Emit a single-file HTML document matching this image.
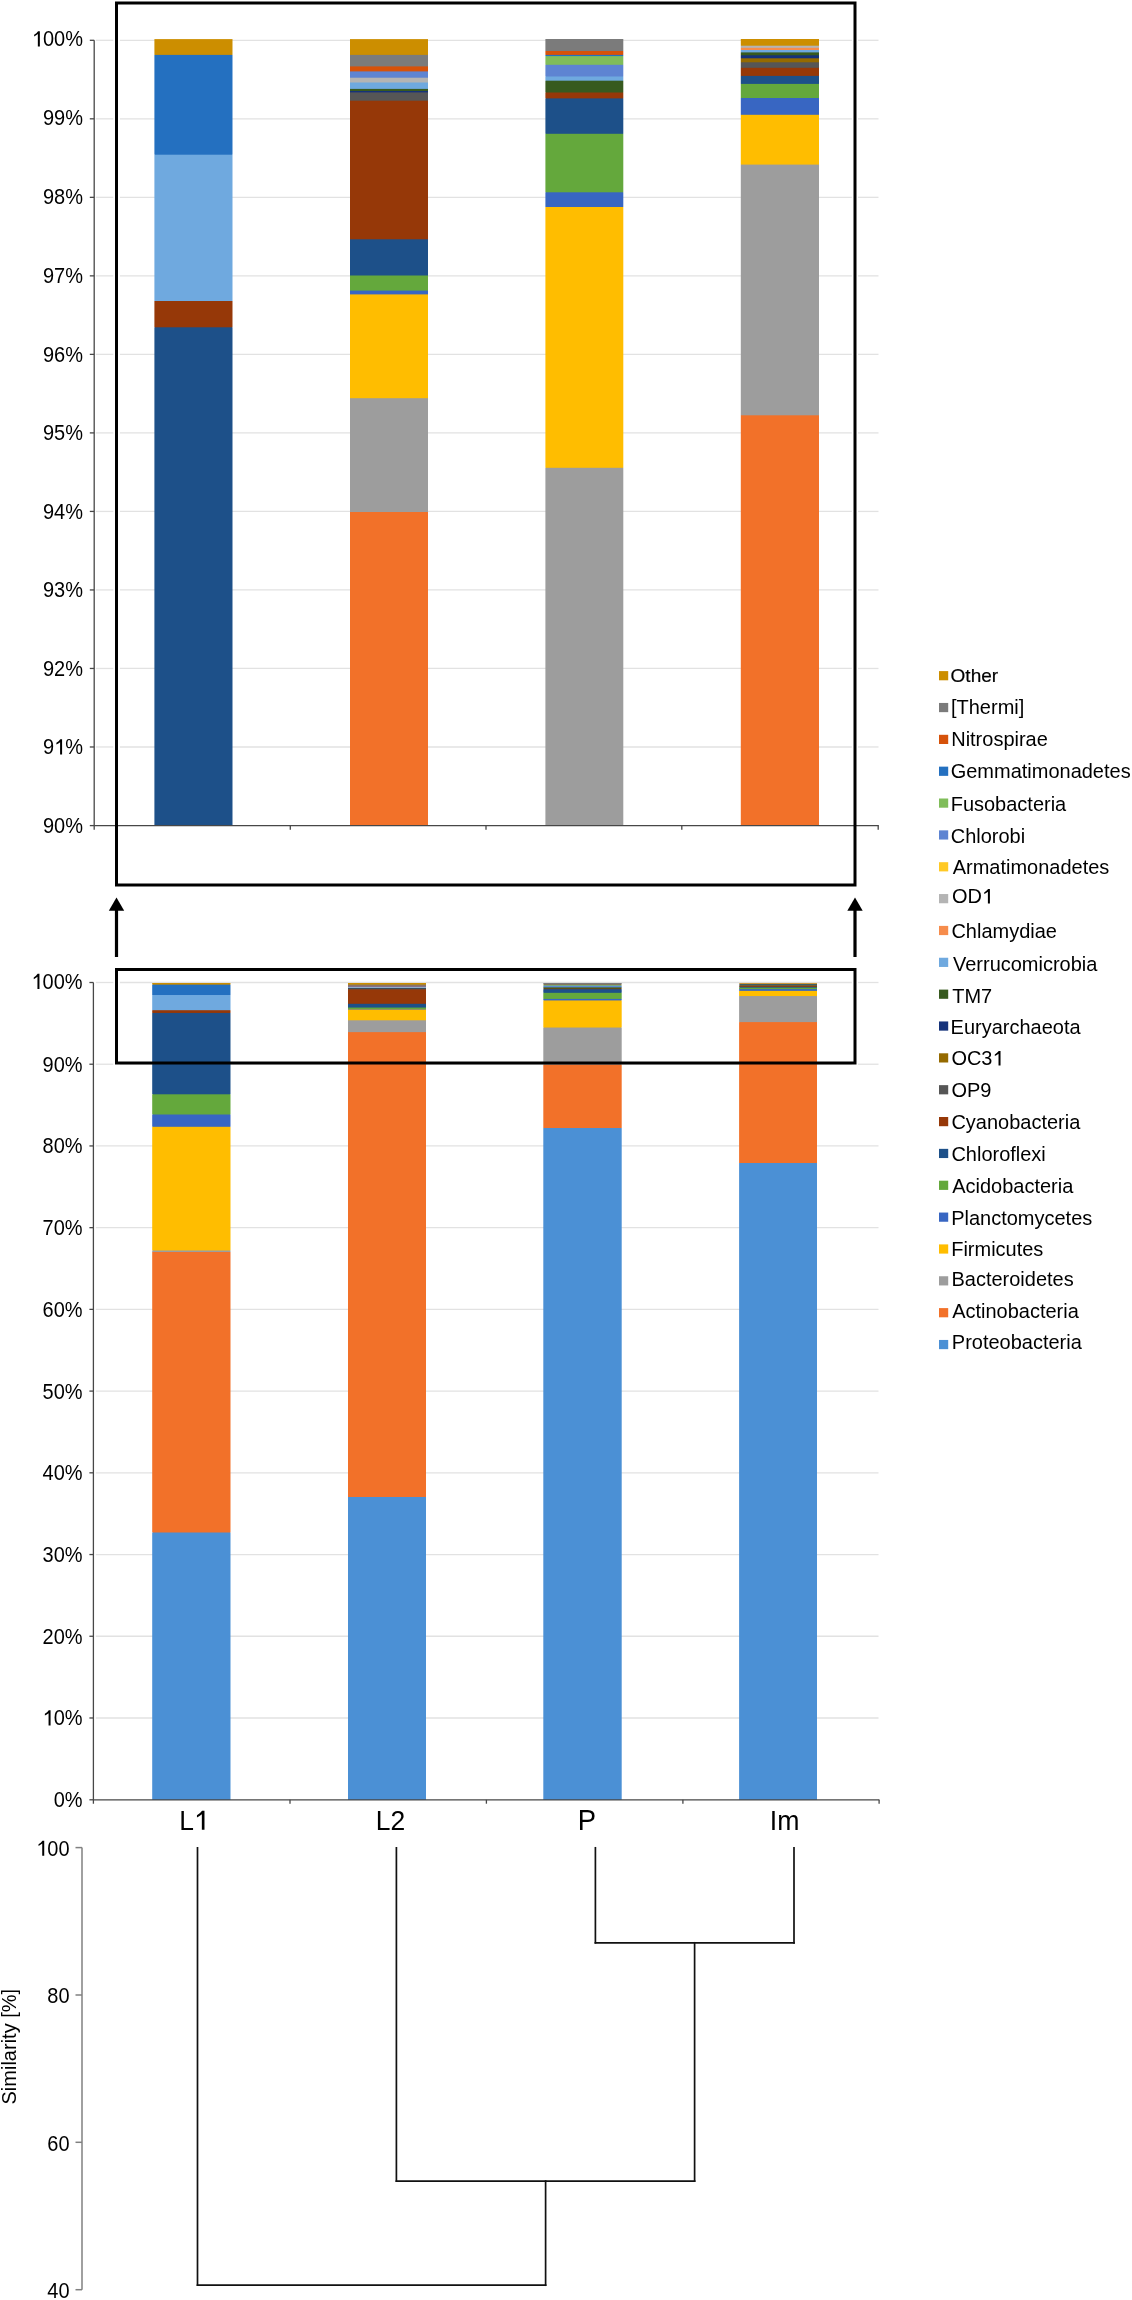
<!DOCTYPE html>
<html><head><meta charset="utf-8"><title>chart</title>
<style>
html,body{margin:0;padding:0;background:#fff;}
body{width:1132px;height:2300px;overflow:hidden;}
svg{display:block;will-change:transform;}
text{font-family:"Liberation Sans",sans-serif;fill:#000;}
.t20{font-size:20px;}
.t26{font-size:26px;}
.tl{font-size:19.6px;}
</style></head>
<body>
<svg width="1132" height="2300" viewBox="0 0 1132 2300">
<rect x="0" y="0" width="1132" height="2300" fill="#fff"/>
<line x1="95.8" y1="40.3" x2="113.3" y2="40.3" stroke="#E2E2E2" stroke-width="1.3"/>
<line x1="119.9" y1="40.3" x2="851.8" y2="40.3" stroke="#E2E2E2" stroke-width="1.3"/>
<line x1="858.0" y1="40.3" x2="878.5" y2="40.3" stroke="#E2E2E2" stroke-width="1.3"/>
<line x1="95.8" y1="118.82" x2="113.3" y2="118.82" stroke="#E2E2E2" stroke-width="1.3"/>
<line x1="119.9" y1="118.82" x2="851.8" y2="118.82" stroke="#E2E2E2" stroke-width="1.3"/>
<line x1="858.0" y1="118.82" x2="878.5" y2="118.82" stroke="#E2E2E2" stroke-width="1.3"/>
<line x1="95.8" y1="197.34" x2="113.3" y2="197.34" stroke="#E2E2E2" stroke-width="1.3"/>
<line x1="119.9" y1="197.34" x2="851.8" y2="197.34" stroke="#E2E2E2" stroke-width="1.3"/>
<line x1="858.0" y1="197.34" x2="878.5" y2="197.34" stroke="#E2E2E2" stroke-width="1.3"/>
<line x1="95.8" y1="275.86" x2="113.3" y2="275.86" stroke="#E2E2E2" stroke-width="1.3"/>
<line x1="119.9" y1="275.86" x2="851.8" y2="275.86" stroke="#E2E2E2" stroke-width="1.3"/>
<line x1="858.0" y1="275.86" x2="878.5" y2="275.86" stroke="#E2E2E2" stroke-width="1.3"/>
<line x1="95.8" y1="354.38" x2="113.3" y2="354.38" stroke="#E2E2E2" stroke-width="1.3"/>
<line x1="119.9" y1="354.38" x2="851.8" y2="354.38" stroke="#E2E2E2" stroke-width="1.3"/>
<line x1="858.0" y1="354.38" x2="878.5" y2="354.38" stroke="#E2E2E2" stroke-width="1.3"/>
<line x1="95.8" y1="432.9" x2="113.3" y2="432.9" stroke="#E2E2E2" stroke-width="1.3"/>
<line x1="119.9" y1="432.9" x2="851.8" y2="432.9" stroke="#E2E2E2" stroke-width="1.3"/>
<line x1="858.0" y1="432.9" x2="878.5" y2="432.9" stroke="#E2E2E2" stroke-width="1.3"/>
<line x1="95.8" y1="511.42" x2="113.3" y2="511.42" stroke="#E2E2E2" stroke-width="1.3"/>
<line x1="119.9" y1="511.42" x2="851.8" y2="511.42" stroke="#E2E2E2" stroke-width="1.3"/>
<line x1="858.0" y1="511.42" x2="878.5" y2="511.42" stroke="#E2E2E2" stroke-width="1.3"/>
<line x1="95.8" y1="589.94" x2="113.3" y2="589.94" stroke="#E2E2E2" stroke-width="1.3"/>
<line x1="119.9" y1="589.94" x2="851.8" y2="589.94" stroke="#E2E2E2" stroke-width="1.3"/>
<line x1="858.0" y1="589.94" x2="878.5" y2="589.94" stroke="#E2E2E2" stroke-width="1.3"/>
<line x1="95.8" y1="668.46" x2="113.3" y2="668.46" stroke="#E2E2E2" stroke-width="1.3"/>
<line x1="119.9" y1="668.46" x2="851.8" y2="668.46" stroke="#E2E2E2" stroke-width="1.3"/>
<line x1="858.0" y1="668.46" x2="878.5" y2="668.46" stroke="#E2E2E2" stroke-width="1.3"/>
<line x1="95.8" y1="746.98" x2="113.3" y2="746.98" stroke="#E2E2E2" stroke-width="1.3"/>
<line x1="119.9" y1="746.98" x2="851.8" y2="746.98" stroke="#E2E2E2" stroke-width="1.3"/>
<line x1="858.0" y1="746.98" x2="878.5" y2="746.98" stroke="#E2E2E2" stroke-width="1.3"/>
<rect x="155" y="39.1" width="77" height="786.4" fill="#CC8E00"/>
<rect x="155" y="54.9" width="77" height="770.6" fill="#2470C0"/>
<rect x="155" y="154.7" width="77" height="670.8" fill="#6FA9DF"/>
<rect x="155" y="301" width="77" height="524.5" fill="#963808"/>
<rect x="155" y="327.3" width="77" height="498.2" fill="#1D5089"/>
<rect x="154.4" y="39.1" width="0.6" height="15.8" fill="#CC8E00"/>
<rect x="232" y="39.1" width="0.5" height="15.8" fill="#CC8E00"/>
<rect x="154.4" y="54.9" width="0.6" height="99.8" fill="#2470C0"/>
<rect x="232" y="54.9" width="0.5" height="99.8" fill="#2470C0"/>
<rect x="154.4" y="154.7" width="0.6" height="146.3" fill="#6FA9DF"/>
<rect x="232" y="154.7" width="0.5" height="146.3" fill="#6FA9DF"/>
<rect x="154.4" y="301" width="0.6" height="26.3" fill="#963808"/>
<rect x="232" y="301" width="0.5" height="26.3" fill="#963808"/>
<rect x="154.4" y="327.3" width="0.6" height="498.2" fill="#1D5089"/>
<rect x="232" y="327.3" width="0.5" height="498.2" fill="#1D5089"/>
<rect x="350" y="39.1" width="78" height="786.4" fill="#CC8E00"/>
<rect x="350" y="54.9" width="78" height="770.6" fill="#7B7B7B"/>
<rect x="350" y="66.4" width="78" height="759.1" fill="#D6520A"/>
<rect x="350" y="71.4" width="78" height="754.1" fill="#5E84D2"/>
<rect x="350" y="77.7" width="78" height="747.8" fill="#B4B4B4"/>
<rect x="350" y="82.5" width="78" height="743" fill="#6FA9DF"/>
<rect x="350" y="88.9" width="78" height="736.6" fill="#375A1F"/>
<rect x="350" y="91" width="78" height="734.5" fill="#15327A"/>
<rect x="350" y="92.4" width="78" height="733.1" fill="#565656"/>
<rect x="350" y="100.7" width="78" height="724.8" fill="#963808"/>
<rect x="350" y="239.3" width="78" height="586.2" fill="#1D5089"/>
<rect x="350" y="275.5" width="78" height="550" fill="#64A83C"/>
<rect x="350" y="290.6" width="78" height="534.9" fill="#3866C2"/>
<rect x="350" y="294.4" width="78" height="531.1" fill="#FFBD00"/>
<rect x="350" y="398.2" width="78" height="427.3" fill="#9D9D9D"/>
<rect x="350" y="512" width="78" height="313.5" fill="#F27129"/>
<rect x="546" y="39" width="77" height="786.5" fill="#7B7B7B"/>
<rect x="546" y="51" width="77" height="774.5" fill="#D6520A"/>
<rect x="546" y="54.9" width="77" height="770.6" fill="#2470C0"/>
<rect x="546" y="56.1" width="77" height="769.4" fill="#80BD5A"/>
<rect x="546" y="64.8" width="77" height="760.7" fill="#5E84D2"/>
<rect x="546" y="76.5" width="77" height="749" fill="#6FA9DF"/>
<rect x="546" y="80.7" width="77" height="744.8" fill="#375A1F"/>
<rect x="546" y="92.5" width="77" height="733" fill="#963808"/>
<rect x="546" y="98.4" width="77" height="727.1" fill="#1D5089"/>
<rect x="546" y="133.8" width="77" height="691.7" fill="#64A83C"/>
<rect x="546" y="192.3" width="77" height="633.2" fill="#3866C2"/>
<rect x="546" y="207" width="77" height="618.5" fill="#FFBD00"/>
<rect x="546" y="467.8" width="77" height="357.7" fill="#9D9D9D"/>
<rect x="545.4" y="39" width="0.6" height="12" fill="#7B7B7B"/>
<rect x="623" y="39" width="0.3" height="12" fill="#7B7B7B"/>
<rect x="545.4" y="51" width="0.6" height="3.9" fill="#D6520A"/>
<rect x="623" y="51" width="0.3" height="3.9" fill="#D6520A"/>
<rect x="545.4" y="54.9" width="0.6" height="1.2" fill="#2470C0"/>
<rect x="623" y="54.9" width="0.3" height="1.2" fill="#2470C0"/>
<rect x="545.4" y="56.1" width="0.6" height="8.7" fill="#80BD5A"/>
<rect x="623" y="56.1" width="0.3" height="8.7" fill="#80BD5A"/>
<rect x="545.4" y="64.8" width="0.6" height="11.7" fill="#5E84D2"/>
<rect x="623" y="64.8" width="0.3" height="11.7" fill="#5E84D2"/>
<rect x="545.4" y="76.5" width="0.6" height="4.2" fill="#6FA9DF"/>
<rect x="623" y="76.5" width="0.3" height="4.2" fill="#6FA9DF"/>
<rect x="545.4" y="80.7" width="0.6" height="11.8" fill="#375A1F"/>
<rect x="623" y="80.7" width="0.3" height="11.8" fill="#375A1F"/>
<rect x="545.4" y="92.5" width="0.6" height="5.9" fill="#963808"/>
<rect x="623" y="92.5" width="0.3" height="5.9" fill="#963808"/>
<rect x="545.4" y="98.4" width="0.6" height="35.4" fill="#1D5089"/>
<rect x="623" y="98.4" width="0.3" height="35.4" fill="#1D5089"/>
<rect x="545.4" y="133.8" width="0.6" height="58.5" fill="#64A83C"/>
<rect x="623" y="133.8" width="0.3" height="58.5" fill="#64A83C"/>
<rect x="545.4" y="192.3" width="0.6" height="14.7" fill="#3866C2"/>
<rect x="623" y="192.3" width="0.3" height="14.7" fill="#3866C2"/>
<rect x="545.4" y="207" width="0.6" height="260.8" fill="#FFBD00"/>
<rect x="623" y="207" width="0.3" height="260.8" fill="#FFBD00"/>
<rect x="545.4" y="467.8" width="0.6" height="357.7" fill="#9D9D9D"/>
<rect x="623" y="467.8" width="0.3" height="357.7" fill="#9D9D9D"/>
<rect x="741" y="39" width="78" height="786.5" fill="#CC8E00"/>
<rect x="741" y="45.7" width="78" height="779.8" fill="#B4B4B4"/>
<rect x="741" y="47.8" width="78" height="777.7" fill="#F68C4C"/>
<rect x="741" y="50" width="78" height="775.5" fill="#6FA9DF"/>
<rect x="741" y="52.4" width="78" height="773.1" fill="#375A1F"/>
<rect x="741" y="55.3" width="78" height="770.2" fill="#15327A"/>
<rect x="741" y="58.3" width="78" height="767.2" fill="#956A00"/>
<rect x="741" y="62.3" width="78" height="763.2" fill="#565656"/>
<rect x="741" y="67.8" width="78" height="757.7" fill="#963808"/>
<rect x="741" y="75.9" width="78" height="749.6" fill="#1D5089"/>
<rect x="741" y="83.9" width="78" height="741.6" fill="#64A83C"/>
<rect x="741" y="98" width="78" height="727.5" fill="#3866C2"/>
<rect x="741" y="114.8" width="78" height="710.7" fill="#FFBD00"/>
<rect x="741" y="164.6" width="78" height="660.9" fill="#9D9D9D"/>
<rect x="741" y="415.3" width="78" height="410.2" fill="#F27129"/>
<rect x="740.8" y="39" width="0.2" height="6.7" fill="#CC8E00"/>
<rect x="740.8" y="45.7" width="0.2" height="2.1" fill="#B4B4B4"/>
<rect x="740.8" y="47.8" width="0.2" height="2.2" fill="#F68C4C"/>
<rect x="740.8" y="50" width="0.2" height="2.4" fill="#6FA9DF"/>
<rect x="740.8" y="52.4" width="0.2" height="2.9" fill="#375A1F"/>
<rect x="740.8" y="55.3" width="0.2" height="3" fill="#15327A"/>
<rect x="740.8" y="58.3" width="0.2" height="4" fill="#956A00"/>
<rect x="740.8" y="62.3" width="0.2" height="5.5" fill="#565656"/>
<rect x="740.8" y="67.8" width="0.2" height="8.1" fill="#963808"/>
<rect x="740.8" y="75.9" width="0.2" height="8" fill="#1D5089"/>
<rect x="740.8" y="83.9" width="0.2" height="14.1" fill="#64A83C"/>
<rect x="740.8" y="98" width="0.2" height="16.8" fill="#3866C2"/>
<rect x="740.8" y="114.8" width="0.2" height="49.8" fill="#FFBD00"/>
<rect x="740.8" y="164.6" width="0.2" height="250.7" fill="#9D9D9D"/>
<rect x="740.8" y="415.3" width="0.2" height="410.2" fill="#F27129"/>
<line x1="94.2" y1="40.3" x2="94.2" y2="829.7" stroke="#474747" stroke-width="1.3"/>
<line x1="94.2" y1="825.6" x2="878.8" y2="825.6" stroke="#474747" stroke-width="1.3"/>
<line x1="89.8" y1="40.3" x2="94.2" y2="40.3" stroke="#474747" stroke-width="1.3"/>
<line x1="89.8" y1="118.82" x2="94.2" y2="118.82" stroke="#474747" stroke-width="1.3"/>
<line x1="89.8" y1="197.34" x2="94.2" y2="197.34" stroke="#474747" stroke-width="1.3"/>
<line x1="89.8" y1="275.86" x2="94.2" y2="275.86" stroke="#474747" stroke-width="1.3"/>
<line x1="89.8" y1="354.38" x2="94.2" y2="354.38" stroke="#474747" stroke-width="1.3"/>
<line x1="89.8" y1="432.9" x2="94.2" y2="432.9" stroke="#474747" stroke-width="1.3"/>
<line x1="89.8" y1="511.42" x2="94.2" y2="511.42" stroke="#474747" stroke-width="1.3"/>
<line x1="89.8" y1="589.94" x2="94.2" y2="589.94" stroke="#474747" stroke-width="1.3"/>
<line x1="89.8" y1="668.46" x2="94.2" y2="668.46" stroke="#474747" stroke-width="1.3"/>
<line x1="89.8" y1="746.98" x2="94.2" y2="746.98" stroke="#474747" stroke-width="1.3"/>
<line x1="89.8" y1="825.6" x2="94.2" y2="825.6" stroke="#474747" stroke-width="1.3"/>
<line x1="290.3" y1="825.6" x2="290.3" y2="829.7" stroke="#474747" stroke-width="1.3"/>
<line x1="486.0" y1="825.6" x2="486.0" y2="829.7" stroke="#474747" stroke-width="1.3"/>
<line x1="681.8" y1="825.6" x2="681.8" y2="829.7" stroke="#474747" stroke-width="1.3"/>
<line x1="878.2" y1="825.6" x2="878.2" y2="829.7" stroke="#474747" stroke-width="1.3"/>
<g transform="translate(31.85,46.40) scale(1,1.11)" fill="#000"><path d="M0.400 0L0.400 -0.686L0.31 -0.686Q0.24 -0.59 0.115 -0.526L0.115 -0.446Q0.22 -0.49 0.300 -0.556L0.300 0Z" transform="translate(0.00,0) scale(20)"/><text x="11.12" y="0" font-size="20">00%</text></g>
<g transform="translate(42.97,125.32) scale(1,1.11)" fill="#000"><text x="0.00" y="0" font-size="20">99%</text></g>
<g transform="translate(42.97,204.14) scale(1,1.11)" fill="#000"><text x="0.00" y="0" font-size="20">98%</text></g>
<g transform="translate(42.97,283.36) scale(1,1.11)" fill="#000"><text x="0.00" y="0" font-size="20">97%</text></g>
<g transform="translate(42.97,361.88) scale(1,1.11)" fill="#000"><text x="0.00" y="0" font-size="20">96%</text></g>
<g transform="translate(42.97,439.80) scale(1,1.11)" fill="#000"><text x="0.00" y="0" font-size="20">95%</text></g>
<g transform="translate(42.97,518.92) scale(1,1.11)" fill="#000"><text x="0.00" y="0" font-size="20">94%</text></g>
<g transform="translate(42.97,597.44) scale(1,1.11)" fill="#000"><text x="0.00" y="0" font-size="20">93%</text></g>
<g transform="translate(42.97,675.96) scale(1,1.11)" fill="#000"><text x="0.00" y="0" font-size="20">92%</text></g>
<g transform="translate(42.97,754.48) scale(1,1.11)" fill="#000"><text x="0.00" y="0" font-size="20">9</text><path d="M0.400 0L0.400 -0.686L0.31 -0.686Q0.24 -0.59 0.115 -0.526L0.115 -0.446Q0.22 -0.49 0.300 -0.556L0.300 0Z" transform="translate(11.12,0) scale(20)"/><text x="22.25" y="0" font-size="20">%</text></g>
<g transform="translate(42.97,833.10) scale(1,1.11)" fill="#000"><text x="0.00" y="0" font-size="20">90%</text></g>
<line x1="95.8" y1="982.5" x2="113.3" y2="982.5" stroke="#E2E2E2" stroke-width="1.3"/>
<line x1="119.9" y1="982.5" x2="851.8" y2="982.5" stroke="#E2E2E2" stroke-width="1.3"/>
<line x1="858.0" y1="982.5" x2="878.5" y2="982.5" stroke="#E2E2E2" stroke-width="1.3"/>
<line x1="95.8" y1="1064.22" x2="113.3" y2="1064.22" stroke="#E2E2E2" stroke-width="1.3"/>
<line x1="119.9" y1="1064.22" x2="851.8" y2="1064.22" stroke="#E2E2E2" stroke-width="1.3"/>
<line x1="858.0" y1="1064.22" x2="878.5" y2="1064.22" stroke="#E2E2E2" stroke-width="1.3"/>
<line x1="95.8" y1="1145.94" x2="878.5" y2="1145.94" stroke="#E2E2E2" stroke-width="1.3"/>
<line x1="95.8" y1="1227.66" x2="878.5" y2="1227.66" stroke="#E2E2E2" stroke-width="1.3"/>
<line x1="95.8" y1="1309.38" x2="878.5" y2="1309.38" stroke="#E2E2E2" stroke-width="1.3"/>
<line x1="95.8" y1="1391.1" x2="878.5" y2="1391.1" stroke="#E2E2E2" stroke-width="1.3"/>
<line x1="95.8" y1="1472.82" x2="878.5" y2="1472.82" stroke="#E2E2E2" stroke-width="1.3"/>
<line x1="95.8" y1="1554.54" x2="878.5" y2="1554.54" stroke="#E2E2E2" stroke-width="1.3"/>
<line x1="95.8" y1="1636.26" x2="878.5" y2="1636.26" stroke="#E2E2E2" stroke-width="1.3"/>
<line x1="95.8" y1="1717.98" x2="878.5" y2="1717.98" stroke="#E2E2E2" stroke-width="1.3"/>
<rect x="153" y="983" width="77" height="817" fill="#CC8E00"/>
<rect x="153" y="984.64" width="77" height="815.36" fill="#2470C0"/>
<rect x="153" y="995.01" width="77" height="804.99" fill="#6FA9DF"/>
<rect x="153" y="1010.21" width="77" height="789.79" fill="#963808"/>
<rect x="153" y="1012.94" width="77" height="787.06" fill="#1D5089"/>
<rect x="153" y="1094.3" width="77" height="705.7" fill="#64A83C"/>
<rect x="153" y="1114.5" width="77" height="685.5" fill="#3866C2"/>
<rect x="153" y="1126.8" width="77" height="673.2" fill="#FFBD00"/>
<rect x="153" y="1250.5" width="77" height="549.5" fill="#9D9D9D"/>
<rect x="153" y="1252" width="77" height="548" fill="#F27129"/>
<rect x="153" y="1532.5" width="77" height="267.5" fill="#4B90D5"/>
<rect x="152.2" y="983" width="0.8" height="1.64" fill="#CC8E00"/>
<rect x="230" y="983" width="0.5" height="1.64" fill="#CC8E00"/>
<rect x="152.2" y="984.64" width="0.8" height="10.37" fill="#2470C0"/>
<rect x="230" y="984.64" width="0.5" height="10.37" fill="#2470C0"/>
<rect x="152.2" y="995.01" width="0.8" height="15.2" fill="#6FA9DF"/>
<rect x="230" y="995.01" width="0.5" height="15.2" fill="#6FA9DF"/>
<rect x="152.2" y="1010.21" width="0.8" height="2.73" fill="#963808"/>
<rect x="230" y="1010.21" width="0.5" height="2.73" fill="#963808"/>
<rect x="152.2" y="1012.94" width="0.8" height="81.36" fill="#1D5089"/>
<rect x="230" y="1012.94" width="0.5" height="81.36" fill="#1D5089"/>
<rect x="152.2" y="1094.3" width="0.8" height="20.2" fill="#64A83C"/>
<rect x="230" y="1094.3" width="0.5" height="20.2" fill="#64A83C"/>
<rect x="152.2" y="1114.5" width="0.8" height="12.3" fill="#3866C2"/>
<rect x="230" y="1114.5" width="0.5" height="12.3" fill="#3866C2"/>
<rect x="152.2" y="1126.8" width="0.8" height="123.7" fill="#FFBD00"/>
<rect x="230" y="1126.8" width="0.5" height="123.7" fill="#FFBD00"/>
<rect x="152.2" y="1250.5" width="0.8" height="1.5" fill="#9D9D9D"/>
<rect x="230" y="1250.5" width="0.5" height="1.5" fill="#9D9D9D"/>
<rect x="152.2" y="1252" width="0.8" height="280.5" fill="#F27129"/>
<rect x="230" y="1252" width="0.5" height="280.5" fill="#F27129"/>
<rect x="152.2" y="1532.5" width="0.8" height="267.5" fill="#4B90D5"/>
<rect x="230" y="1532.5" width="0.5" height="267.5" fill="#4B90D5"/>
<rect x="348" y="983" width="78" height="817" fill="#CC8E00"/>
<rect x="348" y="984.64" width="78" height="815.36" fill="#7B7B7B"/>
<rect x="348" y="985.84" width="78" height="814.16" fill="#D6520A"/>
<rect x="348" y="986.36" width="78" height="813.64" fill="#5E84D2"/>
<rect x="348" y="987.01" width="78" height="812.99" fill="#B4B4B4"/>
<rect x="348" y="987.51" width="78" height="812.49" fill="#6FA9DF"/>
<rect x="348" y="988.17" width="78" height="811.83" fill="#375A1F"/>
<rect x="348" y="988.39" width="78" height="811.61" fill="#15327A"/>
<rect x="348" y="988.54" width="78" height="811.46" fill="#565656"/>
<rect x="348" y="989.4" width="78" height="810.6" fill="#963808"/>
<rect x="348" y="1003.8" width="78" height="796.2" fill="#1D5089"/>
<rect x="348" y="1007.56" width="78" height="792.44" fill="#64A83C"/>
<rect x="348" y="1009.13" width="78" height="790.87" fill="#3866C2"/>
<rect x="348" y="1009.53" width="78" height="790.47" fill="#FFBD00"/>
<rect x="348" y="1020.31" width="78" height="779.69" fill="#9D9D9D"/>
<rect x="348" y="1032.13" width="78" height="767.87" fill="#F27129"/>
<rect x="348" y="1497" width="78" height="303" fill="#4B90D5"/>
<rect x="544" y="982.99" width="77" height="817.01" fill="#7B7B7B"/>
<rect x="544" y="984.24" width="77" height="815.76" fill="#D6520A"/>
<rect x="544" y="984.64" width="77" height="815.36" fill="#2470C0"/>
<rect x="544" y="984.77" width="77" height="815.23" fill="#80BD5A"/>
<rect x="544" y="985.67" width="77" height="814.33" fill="#5E84D2"/>
<rect x="544" y="986.89" width="77" height="813.11" fill="#6FA9DF"/>
<rect x="544" y="987.32" width="77" height="812.68" fill="#375A1F"/>
<rect x="544" y="988.55" width="77" height="811.45" fill="#963808"/>
<rect x="544" y="989.16" width="77" height="810.84" fill="#1D5089"/>
<rect x="544" y="992.84" width="77" height="807.16" fill="#64A83C"/>
<rect x="544" y="998.92" width="77" height="801.08" fill="#3866C2"/>
<rect x="544" y="1000.44" width="77" height="799.56" fill="#FFBD00"/>
<rect x="544" y="1027.54" width="77" height="772.46" fill="#9D9D9D"/>
<rect x="544" y="1064.7" width="77" height="735.3" fill="#F27129"/>
<rect x="544" y="1128" width="77" height="672" fill="#4B90D5"/>
<rect x="543.3" y="982.99" width="0.7" height="1.25" fill="#7B7B7B"/>
<rect x="621" y="982.99" width="0.7" height="1.25" fill="#7B7B7B"/>
<rect x="543.3" y="984.24" width="0.7" height="0.41" fill="#D6520A"/>
<rect x="621" y="984.24" width="0.7" height="0.41" fill="#D6520A"/>
<rect x="543.3" y="984.64" width="0.7" height="0.12" fill="#2470C0"/>
<rect x="621" y="984.64" width="0.7" height="0.12" fill="#2470C0"/>
<rect x="543.3" y="984.77" width="0.7" height="0.9" fill="#80BD5A"/>
<rect x="621" y="984.77" width="0.7" height="0.9" fill="#80BD5A"/>
<rect x="543.3" y="985.67" width="0.7" height="1.22" fill="#5E84D2"/>
<rect x="621" y="985.67" width="0.7" height="1.22" fill="#5E84D2"/>
<rect x="543.3" y="986.89" width="0.7" height="0.44" fill="#6FA9DF"/>
<rect x="621" y="986.89" width="0.7" height="0.44" fill="#6FA9DF"/>
<rect x="543.3" y="987.32" width="0.7" height="1.23" fill="#375A1F"/>
<rect x="621" y="987.32" width="0.7" height="1.23" fill="#375A1F"/>
<rect x="543.3" y="988.55" width="0.7" height="0.61" fill="#963808"/>
<rect x="621" y="988.55" width="0.7" height="0.61" fill="#963808"/>
<rect x="543.3" y="989.16" width="0.7" height="3.68" fill="#1D5089"/>
<rect x="621" y="989.16" width="0.7" height="3.68" fill="#1D5089"/>
<rect x="543.3" y="992.84" width="0.7" height="6.08" fill="#64A83C"/>
<rect x="621" y="992.84" width="0.7" height="6.08" fill="#64A83C"/>
<rect x="543.3" y="998.92" width="0.7" height="1.53" fill="#3866C2"/>
<rect x="621" y="998.92" width="0.7" height="1.53" fill="#3866C2"/>
<rect x="543.3" y="1000.44" width="0.7" height="27.1" fill="#FFBD00"/>
<rect x="621" y="1000.44" width="0.7" height="27.1" fill="#FFBD00"/>
<rect x="543.3" y="1027.54" width="0.7" height="37.16" fill="#9D9D9D"/>
<rect x="621" y="1027.54" width="0.7" height="37.16" fill="#9D9D9D"/>
<rect x="543.3" y="1064.7" width="0.7" height="63.3" fill="#F27129"/>
<rect x="621" y="1064.7" width="0.7" height="63.3" fill="#F27129"/>
<rect x="543.3" y="1128" width="0.7" height="672" fill="#4B90D5"/>
<rect x="621" y="1128" width="0.7" height="672" fill="#4B90D5"/>
<rect x="740" y="982.99" width="77" height="817.01" fill="#CC8E00"/>
<rect x="740" y="983.69" width="77" height="816.31" fill="#B4B4B4"/>
<rect x="740" y="983.9" width="77" height="816.1" fill="#F68C4C"/>
<rect x="740" y="984.13" width="77" height="815.87" fill="#6FA9DF"/>
<rect x="740" y="984.38" width="77" height="815.62" fill="#375A1F"/>
<rect x="740" y="984.68" width="77" height="815.32" fill="#15327A"/>
<rect x="740" y="984.99" width="77" height="815.01" fill="#956A00"/>
<rect x="740" y="985.41" width="77" height="814.59" fill="#565656"/>
<rect x="740" y="985.98" width="77" height="814.02" fill="#963808"/>
<rect x="740" y="986.82" width="77" height="813.18" fill="#1D5089"/>
<rect x="740" y="987.65" width="77" height="812.35" fill="#64A83C"/>
<rect x="740" y="989.12" width="77" height="810.88" fill="#3866C2"/>
<rect x="740" y="990.87" width="77" height="809.13" fill="#FFBD00"/>
<rect x="740" y="996.04" width="77" height="803.96" fill="#9D9D9D"/>
<rect x="740" y="1022.09" width="77" height="777.91" fill="#F27129"/>
<rect x="740" y="1163" width="77" height="637" fill="#4B90D5"/>
<rect x="739.1" y="982.99" width="0.9" height="0.7" fill="#CC8E00"/>
<rect x="739.1" y="983.69" width="0.9" height="0.22" fill="#B4B4B4"/>
<rect x="739.1" y="983.9" width="0.9" height="0.23" fill="#F68C4C"/>
<rect x="739.1" y="984.13" width="0.9" height="0.25" fill="#6FA9DF"/>
<rect x="739.1" y="984.38" width="0.9" height="0.3" fill="#375A1F"/>
<rect x="739.1" y="984.68" width="0.9" height="0.31" fill="#15327A"/>
<rect x="739.1" y="984.99" width="0.9" height="0.42" fill="#956A00"/>
<rect x="739.1" y="985.41" width="0.9" height="0.57" fill="#565656"/>
<rect x="739.1" y="985.98" width="0.9" height="0.84" fill="#963808"/>
<rect x="739.1" y="986.82" width="0.9" height="0.83" fill="#1D5089"/>
<rect x="739.1" y="987.65" width="0.9" height="1.46" fill="#64A83C"/>
<rect x="739.1" y="989.12" width="0.9" height="1.75" fill="#3866C2"/>
<rect x="739.1" y="990.87" width="0.9" height="5.17" fill="#FFBD00"/>
<rect x="739.1" y="996.04" width="0.9" height="26.05" fill="#9D9D9D"/>
<rect x="739.1" y="1022.09" width="0.9" height="140.91" fill="#F27129"/>
<rect x="739.1" y="1163" width="0.9" height="637" fill="#4B90D5"/>
<line x1="93.4" y1="982.5" x2="93.4" y2="1803.7" stroke="#474747" stroke-width="1.3"/>
<line x1="93.4" y1="1799.8" x2="879.3" y2="1799.8" stroke="#474747" stroke-width="1.3"/>
<line x1="89.4" y1="982.5" x2="93.4" y2="982.5" stroke="#474747" stroke-width="1.3"/>
<line x1="89.4" y1="1064.22" x2="93.4" y2="1064.22" stroke="#474747" stroke-width="1.3"/>
<line x1="89.4" y1="1145.94" x2="93.4" y2="1145.94" stroke="#474747" stroke-width="1.3"/>
<line x1="89.4" y1="1227.66" x2="93.4" y2="1227.66" stroke="#474747" stroke-width="1.3"/>
<line x1="89.4" y1="1309.38" x2="93.4" y2="1309.38" stroke="#474747" stroke-width="1.3"/>
<line x1="89.4" y1="1391.1" x2="93.4" y2="1391.1" stroke="#474747" stroke-width="1.3"/>
<line x1="89.4" y1="1472.82" x2="93.4" y2="1472.82" stroke="#474747" stroke-width="1.3"/>
<line x1="89.4" y1="1554.54" x2="93.4" y2="1554.54" stroke="#474747" stroke-width="1.3"/>
<line x1="89.4" y1="1636.26" x2="93.4" y2="1636.26" stroke="#474747" stroke-width="1.3"/>
<line x1="89.4" y1="1717.98" x2="93.4" y2="1717.98" stroke="#474747" stroke-width="1.3"/>
<line x1="89.4" y1="1799.8" x2="93.4" y2="1799.8" stroke="#474747" stroke-width="1.3"/>
<line x1="290.0" y1="1799.8" x2="290.0" y2="1803.7" stroke="#474747" stroke-width="1.3"/>
<line x1="486.4" y1="1799.8" x2="486.4" y2="1803.7" stroke="#474747" stroke-width="1.3"/>
<line x1="682.9" y1="1799.8" x2="682.9" y2="1803.7" stroke="#474747" stroke-width="1.3"/>
<line x1="879.1" y1="1799.8" x2="879.1" y2="1803.7" stroke="#474747" stroke-width="1.3"/>
<g transform="translate(31.45,989.10) scale(1,1.11)" fill="#000"><path d="M0.400 0L0.400 -0.686L0.31 -0.686Q0.24 -0.59 0.115 -0.526L0.115 -0.446Q0.22 -0.49 0.300 -0.556L0.300 0Z" transform="translate(0.00,0) scale(20)"/><text x="11.12" y="0" font-size="20">00%</text></g>
<g transform="translate(42.57,1072.17) scale(1,1.11)" fill="#000"><text x="0.00" y="0" font-size="20">90%</text></g>
<g transform="translate(42.57,1153.44) scale(1,1.11)" fill="#000"><text x="0.00" y="0" font-size="20">80%</text></g>
<g transform="translate(42.57,1235.16) scale(1,1.11)" fill="#000"><text x="0.00" y="0" font-size="20">70%</text></g>
<g transform="translate(42.57,1316.88) scale(1,1.11)" fill="#000"><text x="0.00" y="0" font-size="20">60%</text></g>
<g transform="translate(42.57,1398.60) scale(1,1.11)" fill="#000"><text x="0.00" y="0" font-size="20">50%</text></g>
<g transform="translate(42.57,1480.32) scale(1,1.11)" fill="#000"><text x="0.00" y="0" font-size="20">40%</text></g>
<g transform="translate(42.57,1562.04) scale(1,1.11)" fill="#000"><text x="0.00" y="0" font-size="20">30%</text></g>
<g transform="translate(42.57,1643.76) scale(1,1.11)" fill="#000"><text x="0.00" y="0" font-size="20">20%</text></g>
<g transform="translate(42.57,1725.48) scale(1,1.11)" fill="#000"><path d="M0.400 0L0.400 -0.686L0.31 -0.686Q0.24 -0.59 0.115 -0.526L0.115 -0.446Q0.22 -0.49 0.300 -0.556L0.300 0Z" transform="translate(0.00,0) scale(20)"/><text x="11.12" y="0" font-size="20">0%</text></g>
<g transform="translate(53.69,1807.30) scale(1,1.11)" fill="#000"><text x="0.00" y="0" font-size="20">0%</text></g>
<g transform="translate(179.24,1829.70) scale(1,1.045)" fill="#000"><text x="0.00" y="0" font-size="26.4">L</text><path d="M0.400 0L0.400 -0.686L0.31 -0.686Q0.24 -0.59 0.115 -0.526L0.115 -0.446Q0.22 -0.49 0.300 -0.556L0.300 0Z" transform="translate(14.68,0) scale(26.4)"/></g>
<g transform="translate(375.83,1829.70) scale(1,1.045)" fill="#000"><text x="0.00" y="0" font-size="26.5">L2</text></g>
<g transform="translate(577.85,1829.70) scale(1,1.045)" fill="#000"><text x="0.00" y="0" font-size="27.4">P</text></g>
<g transform="translate(769.72,1829.70) scale(1,1.045)" fill="#000"><text x="0.00" y="0" font-size="26.7">Im</text></g>
<g fill="none" stroke="#000" stroke-width="3">
<rect x="116.5" y="3" width="738.5" height="882"/>
<rect x="116.5" y="969.5" width="738.5" height="93.5"/>
</g>
<line x1="116.5" y1="957" x2="116.5" y2="905" stroke="#000" stroke-width="3.2"/>
<polygon points="116.5,897.5 124.2,910.8 108.8,910.8" fill="#000"/>
<line x1="855.0" y1="957" x2="855.0" y2="905" stroke="#000" stroke-width="3.2"/>
<polygon points="855,897.5 862.7,910.8 847.3,910.8" fill="#000"/>
<rect x="939" y="671.1" width="9.2" height="9.2" fill="#CC8E00"/>
<g transform="translate(950.60,682.10) scale(1,0.95)" fill="#000" stroke="#000" stroke-width="0.2"><text x="0.00" y="0" font-size="19">Other</text></g>
<rect x="939" y="702.95" width="9.2" height="9.2" fill="#7B7B7B"/>
<g transform="translate(951.00,714.30) scale(1,1.045)" fill="#000"><text x="0.00" y="0" font-size="20">[Thermi]</text></g>
<rect x="939" y="734.8" width="9.2" height="9.2" fill="#D6520A"/>
<g transform="translate(951.20,746.20) scale(1,1.045)" fill="#000"><text x="0.00" y="0" font-size="20">Nitrospirae</text></g>
<rect x="939" y="766.65" width="9.2" height="9.2" fill="#2470C0"/>
<g transform="translate(950.70,778.00) scale(1,1.045)" fill="#000"><text x="0.00" y="0" font-size="20">Gemmatimonadetes</text></g>
<rect x="939" y="798.5" width="9.2" height="9.2" fill="#80BD5A"/>
<g transform="translate(950.70,811.00) scale(1,1.045)" fill="#000"><text x="0.00" y="0" font-size="20">Fusobacteria</text></g>
<rect x="939" y="830.35" width="9.2" height="9.2" fill="#5E84D2"/>
<g transform="translate(950.70,842.70) scale(1,1.045)" fill="#000"><text x="0.00" y="0" font-size="20">Chlorobi</text></g>
<rect x="939" y="862.2" width="9.2" height="9.2" fill="#FFC925"/>
<g transform="translate(952.70,873.70) scale(1,1.045)" fill="#000"><text x="0.00" y="0" font-size="20">Armatimonadetes</text></g>
<rect x="939" y="894.05" width="9.2" height="9.2" fill="#B4B4B4"/>
<g transform="translate(951.90,903.40) scale(1,1.045)" fill="#000"><text x="0.00" y="0" font-size="20">OD</text><path d="M0.400 0L0.400 -0.686L0.31 -0.686Q0.24 -0.59 0.115 -0.526L0.115 -0.446Q0.22 -0.49 0.300 -0.556L0.300 0Z" transform="translate(30.00,0) scale(20)"/></g>
<rect x="939" y="925.9" width="9.2" height="9.2" fill="#F68C4C"/>
<g transform="translate(951.40,937.70) scale(1,1.045)" fill="#000"><text x="0.00" y="0" font-size="20">Chlamydiae</text></g>
<rect x="939" y="957.75" width="9.2" height="9.2" fill="#6FA9DF"/>
<g transform="translate(953.00,970.70) scale(1,1.045)" fill="#000"><text x="0.00" y="0" font-size="20">Verrucomicrobia</text></g>
<rect x="939" y="989.6" width="9.2" height="9.2" fill="#375A1F"/>
<g transform="translate(952.20,1002.70) scale(1,1.045)" fill="#000"><text x="0.00" y="0" font-size="20">TM7</text></g>
<rect x="939" y="1021.45" width="9.2" height="9.2" fill="#15327A"/>
<g transform="translate(950.60,1034.00) scale(1,1.045)" fill="#000"><text x="0.00" y="0" font-size="20">Euryarchaeota</text></g>
<rect x="939" y="1053.3" width="9.2" height="9.2" fill="#956A00"/>
<g transform="translate(951.40,1065.40) scale(1,1.045)" fill="#000"><text x="0.00" y="0" font-size="20">OC3</text><path d="M0.400 0L0.400 -0.686L0.31 -0.686Q0.24 -0.59 0.115 -0.526L0.115 -0.446Q0.22 -0.49 0.300 -0.556L0.300 0Z" transform="translate(41.12,0) scale(20)"/></g>
<rect x="939" y="1085.15" width="9.2" height="9.2" fill="#565656"/>
<g transform="translate(951.40,1097.20) scale(1,1.045)" fill="#000"><text x="0.00" y="0" font-size="20">OP9</text></g>
<rect x="939" y="1117" width="9.2" height="9.2" fill="#963808"/>
<g transform="translate(951.40,1129.10) scale(1,1.045)" fill="#000"><text x="0.00" y="0" font-size="20">Cyanobacteria</text></g>
<rect x="939" y="1148.85" width="9.2" height="9.2" fill="#1D5089"/>
<g transform="translate(951.40,1161.00) scale(1,1.045)" fill="#000"><text x="0.00" y="0" font-size="20">Chloroflexi</text></g>
<rect x="939" y="1180.7" width="9.2" height="9.2" fill="#64A83C"/>
<g transform="translate(952.20,1193.20) scale(1,1.045)" fill="#000"><text x="0.00" y="0" font-size="20">Acidobacteria</text></g>
<rect x="939" y="1212.55" width="9.2" height="9.2" fill="#3866C2"/>
<g transform="translate(951.20,1224.50) scale(1,1.045)" fill="#000"><text x="0.00" y="0" font-size="20">Planctomycetes</text></g>
<rect x="939" y="1244.4" width="9.2" height="9.2" fill="#FFBD00"/>
<g transform="translate(951.20,1256.10) scale(1,1.045)" fill="#000"><text x="0.00" y="0" font-size="20">Firmicutes</text></g>
<rect x="939" y="1276.25" width="9.2" height="9.2" fill="#9D9D9D"/>
<g transform="translate(951.50,1286.00) scale(1,1.045)" fill="#000"><text x="0.00" y="0" font-size="20">Bacteroidetes</text></g>
<rect x="939" y="1308.1" width="9.2" height="9.2" fill="#F27129"/>
<g transform="translate(952.20,1317.70) scale(1,1.045)" fill="#000"><text x="0.00" y="0" font-size="20">Actinobacteria</text></g>
<rect x="939" y="1339.95" width="9.2" height="9.2" fill="#4B90D5"/>
<g transform="translate(951.80,1349.20) scale(1,1.045)" fill="#000"><text x="0.00" y="0" font-size="20">Proteobacteria</text></g>
<line x1="82" y1="1847.6" x2="82" y2="2289.7" stroke="#808080" stroke-width="1.5"/>
<line x1="75.5" y1="1847.6" x2="82" y2="1847.6" stroke="#808080" stroke-width="1.5"/>
<g transform="translate(36.23,1855.80) scale(1,1.1)" fill="#000"><path d="M0.400 0L0.400 -0.686L0.31 -0.686Q0.24 -0.59 0.115 -0.526L0.115 -0.446Q0.22 -0.49 0.300 -0.556L0.300 0Z" transform="translate(0.00,0) scale(20)"/><text x="11.12" y="0" font-size="20">00</text></g>
<line x1="75.5" y1="1995.0" x2="82" y2="1995.0" stroke="#808080" stroke-width="1.5"/>
<g transform="translate(47.35,2003.20) scale(1,1.1)" fill="#000"><text x="0.00" y="0" font-size="20">80</text></g>
<line x1="75.5" y1="2142.3" x2="82" y2="2142.3" stroke="#808080" stroke-width="1.5"/>
<g transform="translate(47.35,2150.50) scale(1,1.1)" fill="#000"><text x="0.00" y="0" font-size="20">60</text></g>
<line x1="75.5" y1="2289.7" x2="82" y2="2289.7" stroke="#808080" stroke-width="1.5"/>
<g transform="translate(47.35,2297.90) scale(1,1.1)" fill="#000"><text x="0.00" y="0" font-size="20">40</text></g>
<g transform="translate(15.9,2046.7) rotate(-90)"><g transform="translate(-57.78,0.00) scale(1,1.0)" fill="#000"><text x="0.00" y="0" font-size="20">Similarity [%]</text></g></g>
<g stroke="#111" stroke-width="1.7" stroke-linecap="square" fill="none">
<line x1="197.5" y1="1847.8" x2="197.5" y2="2285.2"/>
<line x1="396.4" y1="1847.8" x2="396.4" y2="2181.1"/>
<line x1="595.4" y1="1847.8" x2="595.4" y2="1942.8"/>
<line x1="794.0" y1="1847.8" x2="794.0" y2="1942.8"/>
<line x1="595.4" y1="1942.8" x2="794.0" y2="1942.8"/>
<line x1="694.6" y1="1942.8" x2="694.6" y2="2181.1"/>
<line x1="396.4" y1="2181.1" x2="694.6" y2="2181.1"/>
<line x1="545.6" y1="2181.1" x2="545.6" y2="2285.2"/>
<line x1="197.5" y1="2285.2" x2="545.6" y2="2285.2"/>
</g>
</svg>
</body></html>
